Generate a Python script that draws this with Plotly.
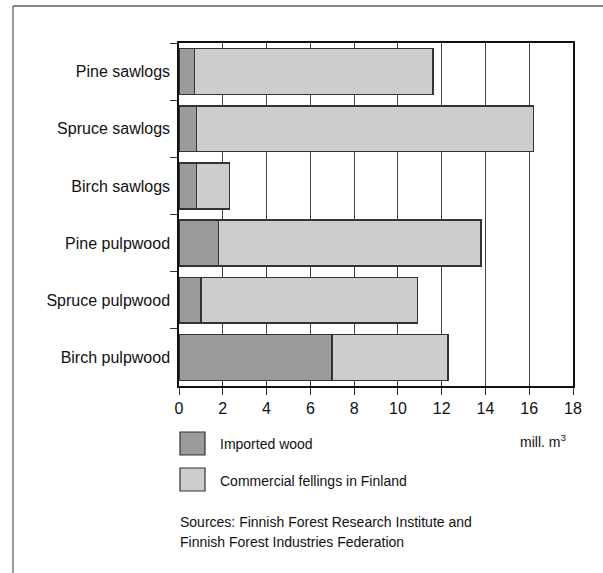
import plotly.graph_objects as go

categories = ["Pine sawlogs", "Spruce sawlogs", "Birch sawlogs",
              "Pine pulpwood", "Spruce pulpwood", "Birch pulpwood"]
imported_wood = [0.7, 0.8, 0.8, 1.8, 1.0, 7.0]
commercial_fellings = [10.9, 15.4, 1.5, 12.0, 9.9, 5.3]
x_ticks = [0, 2, 4, 6, 8, 10, 12, 14, 16, 18]

FONT = "Liberation Sans, Arial, sans-serif"
DARK = "#9b9b9b"
LIGHT = "#cdcdcd"
EDGE = "#333333"

W, H = 603, 573
L, R, T, B = 179, 30, 43, 187
PW, PH = W - L - R, H - T - B


def px(x):
    return (x - L) / PW


def py(y):
    return (H - B - y) / PH


fig = go.Figure()
fig.add_trace(go.Bar(
    y=categories, x=imported_wood, orientation="h", name="Imported wood",
    marker=dict(color=DARK, line=dict(color=EDGE, width=1.5)),
))
fig.add_trace(go.Bar(
    y=categories, x=commercial_fellings, orientation="h",
    name="Commercial fellings in Finland",
    marker=dict(color=LIGHT, line=dict(color=EDGE, width=1.5)),
))

shapes = [
    # outer frame (top and left)
    dict(type="line", xref="paper", yref="paper", x0=px(13), x1=px(603),
         y0=py(6), y1=py(6), line=dict(color="#888888", width=2)),
    dict(type="line", xref="paper", yref="paper", x0=px(13), x1=px(13),
         y0=py(6), y1=py(573), line=dict(color="#555555", width=1.2)),
    # legend swatches
    dict(type="rect", xref="paper", yref="paper", x0=px(180), x1=px(205),
         y0=py(432), y1=py(455), fillcolor=DARK, line=dict(color=EDGE, width=1.2)),
    dict(type="rect", xref="paper", yref="paper", x0=px(180), x1=px(205),
         y0=py(468), y1=py(491), fillcolor=LIGHT, line=dict(color=EDGE, width=1.2)),
]

annotations = [
    dict(text="Imported wood", x=px(218), y=py(444), xref="paper", yref="paper",
         xanchor="left", yanchor="middle", showarrow=False,
         font=dict(family=FONT, size=14, color="#111")),
    dict(text="Commercial fellings in Finland", x=px(218), y=py(481),
         xref="paper", yref="paper", xanchor="left", yanchor="middle",
         showarrow=False, font=dict(family=FONT, size=14, color="#111")),
    dict(text="mill. m<sup>3</sup>", x=px(568), y=py(441), xref="paper",
         yref="paper", xanchor="right", yanchor="middle", showarrow=False,
         font=dict(family=FONT, size=14, color="#111")),
    dict(text="Sources: Finnish Forest Research Institute and", x=px(178),
         y=py(522), xref="paper", yref="paper", xanchor="left",
         yanchor="middle", showarrow=False,
         font=dict(family=FONT, size=14, color="#111")),
    dict(text="Finnish Forest Industries Federation", x=px(178), y=py(542),
         xref="paper", yref="paper", xanchor="left", yanchor="middle",
         showarrow=False, font=dict(family=FONT, size=14, color="#111")),
]

fig.update_layout(
    width=W, height=H,
    margin=dict(l=L, r=R, t=T, b=B, pad=0),
    paper_bgcolor="white", plot_bgcolor="white",
    barmode="stack", bargap=0.2,
    showlegend=False,
    font=dict(family=FONT, size=16, color="#111"),
    shapes=shapes, annotations=annotations,
    xaxis=dict(
        range=[0, 18], tickvals=x_ticks, ticktext=[str(v) for v in x_ticks],
        showgrid=True, gridcolor="#444444", gridwidth=1,
        zeroline=False, showline=True, linecolor="#111111", linewidth=1.5,
        mirror=True, ticks="outside", ticklen=7, tickcolor="#333333",
        tickfont=dict(family=FONT, size=16, color="#111"),
    ),
    yaxis=dict(
        categoryorder="array", categoryarray=categories, autorange="reversed",
        showgrid=False, zeroline=False, showline=True, linecolor="#111111",
        linewidth=1.5, mirror=True, ticks="outside", ticklen=7,
        tickcolor="#333333", tickson="boundaries", ticklabelstandoff=4,
        tickfont=dict(family=FONT, size=16, color="#111"),
    ),
)

fig.write_html(
    "out.html",
    config={"displayModeBar": False},
    post_script="document.body.style.margin='0';document.body.style.padding='0';"
                "document.body.style.overflow='hidden';",
)
